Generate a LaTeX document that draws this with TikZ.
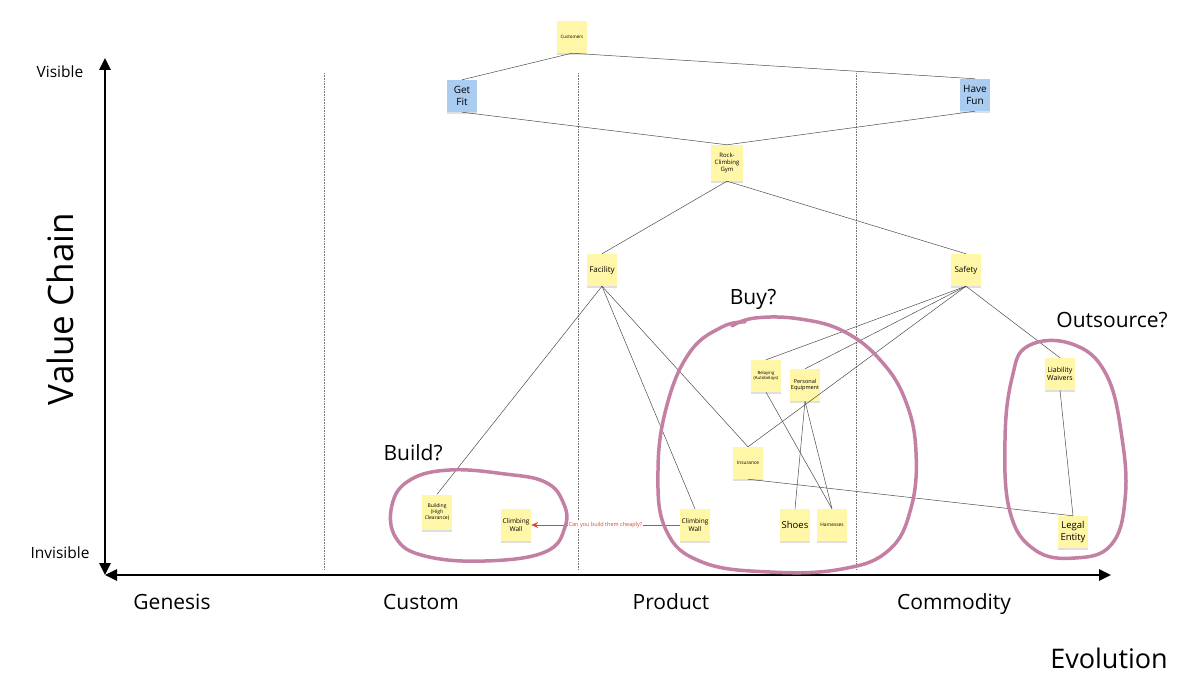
\documentclass[tikz,border=0pt]{standalone}
\usepackage{fontspec}
\setmainfont{Open Sans}
\usetikzlibrary{arrows.meta,shadows}
\definecolor{notey}{HTML}{FFF6A8}
\definecolor{noteb}{HTML}{A9CCF0}
\definecolor{ringc}{HTML}{C480A4}
\definecolor{askred}{HTML}{E0452B}

\begin{document}
\begin{tikzpicture}
[x=1pt, y=-1pt, font=\fontsize{9}{10}\selectfont,
note/.style={rectangle, fill=notey, minimum width=30pt, minimum height=32pt, inner sep=1pt, align=center,
  drop shadow={shadow xshift=0pt, shadow yshift=-2pt, opacity=0.25}},
bluenote/.style={note, fill=noteb},
fs/.style={font=\fontsize{#1}{\fpeval{1.2*#1}}\selectfont},
link/.style={draw=black!70, line width=0.5pt},
ring/.style={draw=ringc, line width=3.5pt, line cap=round, line join=round},
axis/.style={line width=2.5pt, {Triangle[length=12pt,width=11pt]}-{Triangle[length=12pt,width=11pt]}},
stage/.style={font=\fontsize{21}{24}\selectfont, anchor=base},
stageline/.style={draw=black!55, densely dotted, line width=0.6pt}]

\useasboundingbox (0,0) rectangle (1200,700);

% axes and stages
\foreach \sx in {324,578,856}
  \draw[stageline] (\sx,73) -- (\sx,570);
\draw[axis] (105,575) -- (105,58);
\draw[axis] (105,575) -- (1111,575);

\node[fs=15.5] (visible) at (60,72) {Visible};
\node[fs=15.5] (invisible) at (60,553) {Invisible};
\node[fs=35, rotate=90] (valuechain) at (60,309) {Value Chain};
\node[stage] (genesis) at (172,609) {Genesis};
\node[stage] (custom) at (421,609) {Custom};
\node[stage] (product) at (671,609) {Product};
\node[stage] (commodity) at (954,609) {Commodity};
\node[fs=27] (evolution) at (1109,658) {Evolution};

% user needs
\node[note, fs=4.5] (customers) at (572,37) {Customers};
\node[bluenote, fs=10] (getfit) at (462,96) {Get\\Fit};
\node[bluenote, fs=10] (havefun) at (975,95) {Have\\Fun};

% components
\node[note, fs=6, minimum width=32pt, minimum height=36pt] (gym) at (727,163) {Rock-\\Climbing\\Gym};
\node[note, fs=8] (facility) at (602,270) {Facility};
\node[note, fs=8] (safety) at (966,270) {Safety};
\node[note, fs=4.3] (belaying) at (766,376) {Belaying\\(Autobelays)};
\node[note, fs=5.5] (personal) at (805,385) {Personal\\Equipment};
\node[note, fs=7] (waivers) at (1060,374) {Liability\\Waivers};
\node[note, fs=4.8] (insurance) at (748,463) {Insurance};
\node[note, fs=5, minimum height=35pt] (building) at (437,512) {Building\\(High\\Clearance)};
\node[note, fs=6.5] (wallcustom) at (516,525) {Climbing\\Wall};
\node[note, fs=6.5] (wallproduct) at (695,525) {Climbing\\Wall};
\node[note, fs=9.5] (shoes) at (795,525) {Shoes};
\node[note, fs=4.8] (harnesses) at (832,525) {Harnesses};
\node[note, fs=9.5] (legal) at (1073,532) {Legal\\Entity};

% value chain links
\draw[link] (customers.south) -- (getfit.north);
\draw[link] (customers.south) -- (havefun.north);
\draw[link] (getfit.south) -- (gym.north);
\draw[link] (havefun.south) -- (gym.north);
\draw[link] (gym.south) -- (facility.north);
\draw[link] (gym.south) -- (safety.north);
\draw[link] (facility.south) -- (building.north);
\draw[link] (facility.south) -- (wallproduct.north);
\draw[link] (facility.south) -- (insurance.north);
\draw[link] (safety.south) -- (belaying.north);
\draw[link] (safety.south) -- (personal.north);
\draw[link] (safety.south) -- (insurance.north);
\draw[link] (safety.south) -- (waivers.north);
\draw[link] (belaying.south) -- (harnesses.north);
\draw[link] (personal.south) -- (shoes.north);
\draw[link] (personal.south) -- (harnesses.north);
\draw[link] (insurance.south) -- (legal.north);
\draw[link] (waivers.south) -- (legal.north);

\draw[askred, line width=1pt, -{Stealth[length=7pt,width=6pt]}] (wallproduct.west) --
  node[fill=white, fs=5.5, text=askred, inner sep=1pt] (cheaply) {Can you build them cheaply?} (wallcustom.east);

% hand drawn rings
\draw[ring] plot[smooth cycle, tension=0.7] coordinates {(392,505) (410,480) (450,470) (505,474) (545,482) (563,502)
  (565,527) (545,552) (485,561) (425,556) (396,538)};
\draw[ring] plot[smooth, tension=0.7] coordinates {(732,326) (755,318) (800,319) (845,332) (882,362) (906,402)
  (916,452) (911,508) (889,550) (842,569) (770,572) (702,562) (666,530) (658,470) (667,405) (690,352) (722,327) (745,322)};
\draw[ring] plot[smooth cycle, tension=0.7] coordinates {(1028,346) (1072,344) (1106,374) (1122,438) (1125,500)
  (1111,545) (1075,558) (1035,550) (1010,512) (1005,440) (1012,378)};

\node[fs=21] (build) at (413,453) {Build?};
\node[fs=21] (buy) at (753,299) {Buy?};
\node[fs=21] (outsource) at (1112,320) {Outsource?};
\end{tikzpicture}
\end{document}
